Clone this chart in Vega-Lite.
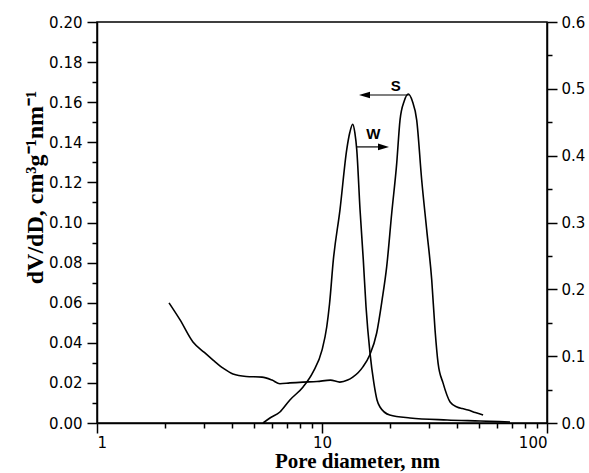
{
  "$schema": "https://vega.github.io/schema/vega-lite/v6.json",
  "width": 450,
  "height": 401,
  "autosize": "none",
  "padding": {"left": 97, "top": 22, "right": 42, "bottom": 50},
  "background": "white",
  "datasets": {
    "S": [
      {"diameter": 2.09, "dvdd": 0.0599}, {"diameter": 2.34, "dvdd": 0.0514}, {"diameter": 2.67, "dvdd": 0.0404},
      {"diameter": 3.0, "dvdd": 0.0352}, {"diameter": 3.28, "dvdd": 0.0314}, {"diameter": 3.65, "dvdd": 0.0272},
      {"diameter": 4.02, "dvdd": 0.0244}, {"diameter": 4.6, "dvdd": 0.0232}, {"diameter": 5.41, "dvdd": 0.0229},
      {"diameter": 6.0, "dvdd": 0.0214}, {"diameter": 6.5, "dvdd": 0.0196}, {"diameter": 7.2, "dvdd": 0.02},
      {"diameter": 8.24, "dvdd": 0.0204}, {"diameter": 9.5, "dvdd": 0.0207}, {"diameter": 10.9, "dvdd": 0.0214},
      {"diameter": 12.0, "dvdd": 0.0204}, {"diameter": 13.0, "dvdd": 0.0214}, {"diameter": 13.7, "dvdd": 0.0229},
      {"diameter": 14.5, "dvdd": 0.0252}, {"diameter": 15.2, "dvdd": 0.028}, {"diameter": 16.3, "dvdd": 0.0339},
      {"diameter": 17.5, "dvdd": 0.0449}, {"diameter": 18.49, "dvdd": 0.0613}, {"diameter": 19.39, "dvdd": 0.078},
      {"diameter": 20.41, "dvdd": 0.1046}, {"diameter": 21.48, "dvdd": 0.1295}, {"diameter": 22.22, "dvdd": 0.1511},
      {"diameter": 23.2, "dvdd": 0.1606}, {"diameter": 24.18, "dvdd": 0.1641}, {"diameter": 25.2, "dvdd": 0.1606},
      {"diameter": 26.36, "dvdd": 0.1511}, {"diameter": 27.74, "dvdd": 0.1212}, {"diameter": 29.2, "dvdd": 0.0963},
      {"diameter": 30.74, "dvdd": 0.0713}, {"diameter": 31.8, "dvdd": 0.0464}, {"diameter": 32.8, "dvdd": 0.0299},
      {"diameter": 34.5, "dvdd": 0.02}, {"diameter": 37.1, "dvdd": 0.0105}, {"diameter": 39.8, "dvdd": 0.008},
      {"diameter": 42.0, "dvdd": 0.0072}, {"diameter": 44.6, "dvdd": 0.0065}, {"diameter": 48.0, "dvdd": 0.0052},
      {"diameter": 52.0, "dvdd": 0.004}
    ],
    "W": [
      {"diameter": 5.47, "dvdd": 0}, {"diameter": 5.87, "dvdd": 0.0075}, {"diameter": 6.5, "dvdd": 0.0165},
      {"diameter": 7.2, "dvdd": 0.0345}, {"diameter": 8.24, "dvdd": 0.054}, {"diameter": 9.12, "dvdd": 0.0762},
      {"diameter": 10.0, "dvdd": 0.109}, {"diameter": 10.5, "dvdd": 0.144}, {"diameter": 10.8, "dvdd": 0.178},
      {"diameter": 11.23, "dvdd": 0.244}, {"diameter": 12.02, "dvdd": 0.319}, {"diameter": 12.88, "dvdd": 0.409},
      {"diameter": 13.3, "dvdd": 0.435}, {"diameter": 13.69, "dvdd": 0.447}, {"diameter": 14.0, "dvdd": 0.434},
      {"diameter": 14.27, "dvdd": 0.409}, {"diameter": 14.76, "dvdd": 0.319}, {"diameter": 15.26, "dvdd": 0.244},
      {"diameter": 15.69, "dvdd": 0.174}, {"diameter": 16.34, "dvdd": 0.105}, {"diameter": 17.0, "dvdd": 0.06},
      {"diameter": 17.56, "dvdd": 0.0345}, {"diameter": 18.1, "dvdd": 0.024}, {"diameter": 20.0, "dvdd": 0.012},
      {"diameter": 24.6, "dvdd": 0.0075}, {"diameter": 36, "dvdd": 0.0045}, {"diameter": 50.4, "dvdd": 0.003},
      {"diameter": 68.5, "dvdd": 0.0015}
    ],
    "arrows": [
      {"label": "W", "x_start": 14.3, "x_end": 18.77, "y": 0.1377, "text_x": 16.9, "text_y": 0.1441},
      {"label": "S", "x_start": 24.3, "x_end": 15.45, "y": 0.1636, "text_x": 21.27, "text_y": 0.1682}
    ]
  },
  "layer": [
    {
      "layer": [
        {
          "data": {"name": "S"},
          "mark": {"type": "line", "color": "black", "strokeWidth": 1.6, "interpolate": "monotone"},
          "encoding": {
            "x": {"field": "diameter", "type": "quantitative",
              "scale": {"type": "log", "domain": [1, 100]},
              "axis": {"orient": "bottom", "values": [1, 10, 100], "format": "d", "tickSize": 10, "labelPadding": 2,
                "title": "Pore diameter, nm", "titleFontSize": 21, "titleX": 260, "titleY": 44, "titleBaseline": "alphabetic", "titleAlign": "center"}},
            "y": {"field": "dvdd", "type": "quantitative",
              "scale": {"domain": [0, 0.2], "nice": false, "zero": false},
              "axis": {"orient": "left", "values": [0, 0.02, 0.04, 0.06, 0.08, 0.1, 0.12, 0.14, 0.16, 0.18, 0.2], "format": ".2f",
                "tickSize": 10, "labelPadding": 5,
                "title": "dV/dD, cm³g⁻¹nm⁻¹", "titleFontSize": 24, "titleX": -55, "titleY": 165, "titleBaseline": "alphabetic", "titleAngle": -90, "titleAlign": "center"}}
          }
        },
        {
          "data": {"name": "S"},
          "mark": {"type": "point", "opacity": 0},
          "encoding": {
            "x": {"field": "diameter", "type": "quantitative",
              "scale": {"type": "log", "domain": [1, 100]},
              "axis": {"orient": "bottom", "values": [2, 3, 4, 5, 6, 7, 8, 9, 20, 30, 40, 50, 60, 70, 80, 90], "tickSize": 5, "labels": false, "domain": false, "title": null}},
            "y": {"field": "dvdd", "type": "quantitative",
              "scale": {"domain": [0, 0.2], "nice": false, "zero": false},
              "axis": {"orient": "left", "values": [0.01, 0.03, 0.05, 0.07, 0.09, 0.11, 0.13, 0.15, 0.17, 0.19], "tickSize": 5, "labels": false, "domain": false, "title": null}}
          }
        },
        {
          "data": {"name": "arrows"},
          "mark": {"type": "rule", "color": "black", "strokeWidth": 1.2},
          "encoding": {
            "x": {"field": "x_start", "type": "quantitative", "axis": null},
            "x2": {"field": "x_end"},
            "y": {"field": "y", "type": "quantitative", "axis": null}
          }
        },
        {
          "data": {"name": "arrows"},
          "mark": {"type": "point", "filled": true, "color": "black", "opacity": 1, "size": 121},
          "encoding": {
            "x": {"field": "x_end", "type": "quantitative", "axis": null},
            "y": {"field": "y", "type": "quantitative", "axis": null},
            "shape": {"field": "label", "type": "nominal", "legend": null,
              "scale": {"domain": ["W", "S"], "range": ["M -1 -0.6 L 1 0 L -1 0.6 Z", "M 1 -0.6 L -1 0 L 1 0.6 Z"]}}
          }
        },
        {
          "data": {"name": "arrows"},
          "mark": {"type": "text", "font": "Liberation Sans", "fontWeight": "bold", "fontSize": 15, "color": "black", "align": "center", "baseline": "middle"},
          "encoding": {
            "x": {"field": "text_x", "type": "quantitative", "axis": null},
            "y": {"field": "text_y", "type": "quantitative", "axis": null},
            "text": {"field": "label"}
          }
        }
      ],
      "resolve": {"axis": {"x": "independent", "y": "independent"}}
    },
    {
      "layer": [
        {
          "data": {"name": "W"},
          "mark": {"type": "line", "color": "black", "strokeWidth": 1.6, "interpolate": "monotone"},
          "encoding": {
            "x": {"field": "diameter", "type": "quantitative", "axis": null},
            "y": {"field": "dvdd", "type": "quantitative",
              "scale": {"domain": [0, 0.6], "nice": false, "zero": false},
              "axis": {"orient": "right", "values": [0, 0.1, 0.2, 0.3, 0.4, 0.5, 0.6], "format": ".1f", "tickSize": 10, "labelPadding": 4, "title": null}}
          }
        },
        {
          "data": {"name": "W"},
          "mark": {"type": "point", "opacity": 0},
          "encoding": {
            "x": {"field": "diameter", "type": "quantitative", "axis": null},
            "y": {"field": "dvdd", "type": "quantitative",
              "scale": {"domain": [0, 0.6], "nice": false, "zero": false},
              "axis": {"orient": "right", "values": [0.05, 0.15, 0.25, 0.35, 0.45, 0.55], "tickSize": 5, "labels": false, "domain": false, "title": null}}
          }
        }
      ],
      "resolve": {"axis": {"x": "independent", "y": "independent"}}
    }
  ],
  "resolve": {"scale": {"y": "independent"}, "axis": {"x": "independent", "y": "independent"}},
  "config": {
    "view": {"stroke": "black", "strokeWidth": 1.5},
    "axis": {"grid": false, "domainColor": "black", "domainWidth": 1.5, "tickColor": "black", "tickWidth": 1.5,
      "labelFont": "DejaVu Sans", "labelFontSize": 15, "labelColor": "black",
      "titleFont": "Liberation Serif", "titleFontWeight": "bold", "titleColor": "black"}
  }
}
